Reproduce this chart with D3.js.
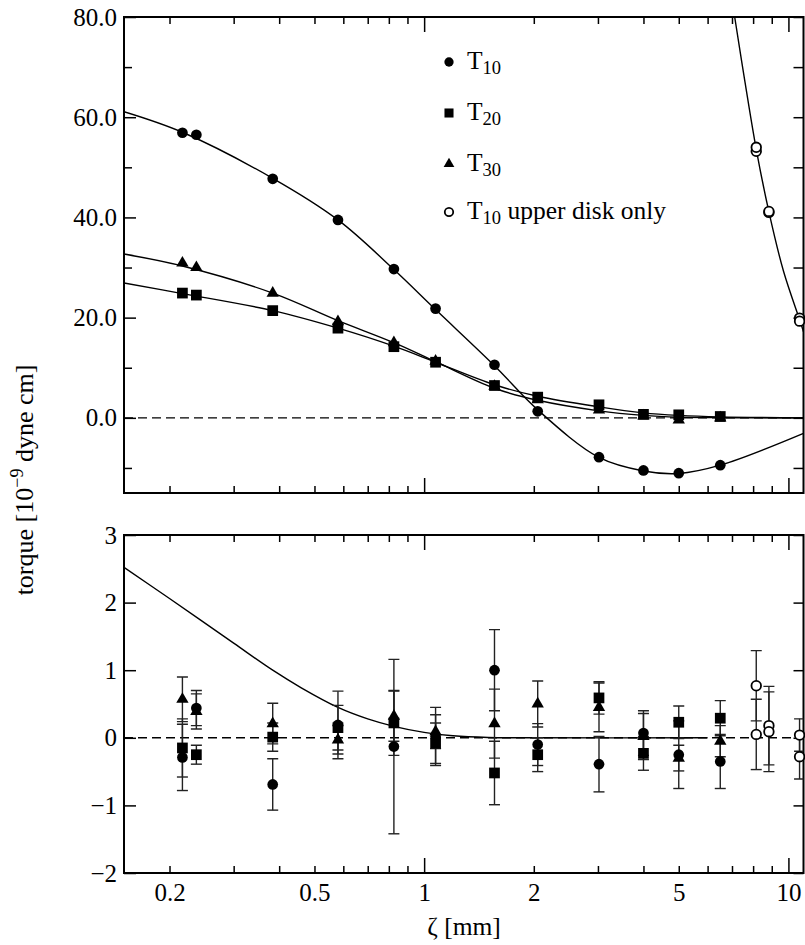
<!DOCTYPE html>
<html>
<head>
<meta charset="utf-8">
<script src="https://cdn.jsdelivr.net/npm/d3@7"></script>
<style>
  body { margin: 0; background: #fff; }
  text { font-family: "Liberation Serif", "Times New Roman", serif; }
</style>
</head>
<body>
<div id="chart"></div>
<script>
//plate separations [mm] where torques were measured
const zeta = [0.217, 0.237, 0.384, 0.58, 0.826, 1.075, 1.56, 2.05, 3.02, 4.0, 5.0, 6.5];

//measured torques [1e-9 dyne cm]
const t10 = [56.9, 56.5, 47.7, 39.5, 29.7, 21.8, 10.6, 1.3, -7.85, -10.5, -11.05, -9.45];
const t20 = [24.9, 24.5, 21.4, 17.9, 14.2, 11.1, 6.45, 4.13, 2.6, 0.7, 0.6, 0.27];
const t30 = [30.9, 30.0, 24.9, 19.2, 15.0, 11.3, 6.3, 3.6, 1.6, 0.4, -0.4, 0.0];

//upper disk only runs
const zetaUpper = [8.16, 8.16, 8.84, 8.84, 10.73, 10.73];
const t10Upper = [53.2, 54.0, 41.0, 41.2, 19.9, 19.3];

//fitted curves, [zeta, torque]
const fitT10 = [[0.15, 61.1], [0.217, 57.0], [0.384, 47.8], [0.58, 39.5], [0.826, 29.6], [1.075, 21.6],
    [1.56, 10.4], [2.05, 1.6], [3.02, -7.9], [4.0, -10.6], [5.0, -11.1], [6.5, -9.45], [11, -3.1]];
const fitT20 = [[0.15, 26.9], [0.217, 24.8], [0.384, 21.4], [0.58, 17.9], [0.826, 14.3], [1.075, 11.1],
    [1.56, 6.6], [2.05, 4.3], [3.02, 2.2], [4.0, 1.0], [5.0, 0.5], [6.5, 0.2], [11, 0.0]];
const fitT30 = [[0.15, 32.7], [0.217, 30.3], [0.384, 24.9], [0.58, 19.4], [0.826, 15.0], [1.075, 11.2],
    [1.56, 5.9], [2.05, 3.5], [3.02, 1.4], [4.0, 0.5], [5.0, 0.15], [6.5, 0.03], [11, 0.0]];
const fitUpper = [[6.9, 86.5], [7.12, 80], [7.6, 67], [8.16, 53.6], [8.84, 41.1], [9.7, 29.2],
    [10.73, 19.6], [11, 17.2]];

//residuals and their error bars
const resT10 = [-0.29, 0.44, -0.69, 0.19, -0.13, 0.02, 1.00, -0.10, -0.39, 0.07, -0.25, -0.35];
const errT10 = [0.49, 0.26, 0.38, 0.50, 1.29, 0.43, 0.60, 0.31, 0.41, 0.33, 0.50, 0.40];
const resT20 = [-0.15, -0.25, 0.01, 0.15, 0.22, -0.08, -0.52, -0.25, 0.59, -0.23, 0.23, 0.29];
const errT20 = [0.43, 0.14, 0.21, 0.33, 0.48, 0.30, 0.47, 0.25, 0.24, 0.25, 0.24, 0.26];
const resT30 = [0.57, 0.39, 0.21, -0.03, 0.32, 0.09, 0.21, 0.50, 0.45, 0.02, -0.30, -0.05];
const errT30 = [0.33, 0.26, 0.30, 0.21, 0.37, 0.25, 0.51, 0.34, 0.36, 0.34, 0.19, 0.23];
const resUpper = [0.77, 0.05, 0.18, 0.09, 0.04, -0.28];
const errUpper = [0.52, 0.52, 0.58, 0.59, 0.24, 0.33];

//residual curve in lower panel
const fitResid = [[0.15, 2.52], [0.2, 2.06], [0.3, 1.40], [0.384, 1.0], [0.46, 0.74], [0.58, 0.45],
    [0.7, 0.28], [0.826, 0.17], [1.0, 0.08], [1.2, 0.03], [1.5, 0.005], [2.0, 0.0], [6.0, 0.0]];

//ticks
const xMinor = [0.2, 0.3, 0.4, 0.5, 0.6, 0.7, 0.8, 0.9, 2, 3, 4, 5, 6, 7, 8, 9];
const xMajor = [1, 10];
const xLabels = [0.2, 0.5, 1, 2, 5, 10];
const yTopMajor = [0, 20, 40, 60, 80];
const yTopMinor = [-10, 10, 30, 50, 70];
const yBotMajor = [-2, -1, 0, 1, 2, 3];

const width = 805;
const height = 945;
const left = 124;
const right = 803.5;

const svg = d3.select("#chart").append("svg")
    .attr("width", width)
    .attr("height", height);

const x = d3.scaleLog().domain([0.15, 11]).range([left, right]);
const yTop = d3.scaleLinear().domain([-15, 80]).range([493, 17]);
const yBot = d3.scaleLinear().domain([-2, 3]).range([873, 535]);

//clip regions for the two panels
const defs = svg.append("defs");
[["clipTop", yTop], ["clipBot", yBot]].forEach(([id, y]) => {
    defs.append("clipPath").attr("id", id)
        .append("rect")
        .attr("x", left).attr("y", y.range()[1])
        .attr("width", right - left).attr("height", y.range()[0] - y.range()[1]);
});

function styleAxis(g) {
    g.select(".domain").remove();
    g.selectAll("line").attr("stroke", "#000").attr("stroke-width", 1.5);
    g.selectAll("text").attr("fill", "#000").attr("font-size", 25)
        .attr("font-family", "'Liberation Serif', 'Times New Roman', serif");
}

//frame, ticks and dashed zero line for one panel
function drawFrame(y, yMajor, yMinor, fmt, labelX) {
    const [y0, y1] = y.range();

    svg.append("g").attr("transform", `translate(0,${y0})`)
        .call(d3.axisBottom(x).tickValues(xMinor).tickSize(-7).tickFormat(""))
        .call(styleAxis);
    svg.append("g").attr("transform", `translate(0,${y0})`)
        .call(d3.axisBottom(x).tickValues(xMajor).tickSize(-15).tickFormat(""))
        .call(styleAxis);
    svg.append("g").attr("transform", `translate(0,${y1})`)
        .call(d3.axisTop(x).tickValues(xMinor).tickSize(-7).tickFormat(""))
        .call(styleAxis);
    svg.append("g").attr("transform", `translate(0,${y1})`)
        .call(d3.axisTop(x).tickValues(xMajor).tickSize(-15).tickFormat(""))
        .call(styleAxis);
    if (labelX) {
        svg.append("g").attr("transform", `translate(0,${y0})`)
            .call(d3.axisBottom(x).tickValues(xLabels).tickSize(0).tickPadding(10).tickFormat(d => String(d)))
            .call(styleAxis);
    }

    svg.append("g").attr("transform", `translate(${left},0)`)
        .call(d3.axisLeft(y).tickValues(yMajor).tickSize(-12).tickPadding(7).tickFormat(fmt))
        .call(styleAxis);
    svg.append("g").attr("transform", `translate(${right},0)`)
        .call(d3.axisRight(y).tickValues(yMajor).tickSize(-10).tickFormat(""))
        .call(styleAxis);
    if (yMinor.length) {
        svg.append("g").attr("transform", `translate(${left},0)`)
            .call(d3.axisLeft(y).tickValues(yMinor).tickSize(-8).tickFormat(""))
            .call(styleAxis);
        svg.append("g").attr("transform", `translate(${right},0)`)
            .call(d3.axisRight(y).tickValues(yMinor).tickSize(-10).tickFormat(""))
            .call(styleAxis);
    }

    //zero line
    svg.append("line")
        .attr("x1", left).attr("x2", right)
        .attr("y1", y(0)).attr("y2", y(0))
        .attr("stroke", "#000")
        .attr("stroke-width", 1.4)
        .attr("stroke-dasharray", "9,5");

    svg.append("rect")
        .attr("x", left).attr("y", y1)
        .attr("width", right - left).attr("height", y0 - y1)
        .attr("fill", "none")
        .attr("stroke", "#000")
        .attr("stroke-width", 2);
}

drawFrame(yTop, yTopMajor, yTopMinor, d3.format(".1f"), false);
drawFrame(yBot, yBotMajor, [], d3.format("d"), true);

//fitted curves
function drawCurve(pts, y, clip) {
    const line = d3.line()
        .x(d => x(d[0]))
        .y(d => y(d[1]))
        .curve(d3.curveCatmullRom.alpha(0.5));
    svg.append("path")
        .datum(pts)
        .attr("clip-path", `url(#${clip})`)
        .attr("fill", "none")
        .attr("stroke", "#000")
        .attr("stroke-width", 1.4)
        .attr("d", line);
}

drawCurve(fitT10, yTop, "clipTop");
drawCurve(fitT20, yTop, "clipTop");
drawCurve(fitT30, yTop, "clipTop");
drawCurve(fitUpper, yTop, "clipTop");
drawCurve(fitResid, yBot, "clipBot");

//marker shapes
const shapes = {
    circle: d3.symbol().type(d3.symbolCircle).size(90),
    square: d3.symbol().type(d3.symbolSquare).size(115),
    triangle: d3.symbol().type(d3.symbolTriangle).size(66),
    open: d3.symbol().type(d3.symbolCircle).size(72)
};

function drawPoints(xs, ys, y, shape) {
    svg.append("g")
        .selectAll("path")
        .data(xs.map((d, i) => [d, ys[i]]))
        .join("path")
        .attr("transform", d => `translate(${x(d[0])},${y(d[1])})`)
        .attr("d", shapes[shape])
        .attr("fill", shape === "open" ? "#fff" : "#000")
        .attr("stroke", shape === "open" ? "#000" : "none")
        .attr("stroke-width", 1.8);
}

//error bars with caps
function drawErrors(xs, ys, es) {
    const g = svg.append("g")
        .attr("stroke", "#222")
        .attr("stroke-width", 1.4)
        .attr("clip-path", "url(#clipBot)");
    const data = xs.map((d, i) => ({ x: x(d), lo: yBot(ys[i] - es[i]), hi: yBot(ys[i] + es[i]) }));
    g.selectAll(".bar").data(data).join("line")
        .attr("x1", d => d.x).attr("x2", d => d.x)
        .attr("y1", d => d.lo).attr("y2", d => d.hi);
    g.selectAll(".capLo").data(data).join("line")
        .attr("x1", d => d.x - 5.5).attr("x2", d => d.x + 5.5)
        .attr("y1", d => d.lo).attr("y2", d => d.lo);
    g.selectAll(".capHi").data(data).join("line")
        .attr("x1", d => d.x - 5.5).attr("x2", d => d.x + 5.5)
        .attr("y1", d => d.hi).attr("y2", d => d.hi);
}

drawErrors(zeta, resT10, errT10);
drawErrors(zeta, resT20, errT20);
drawErrors(zeta, resT30, errT30);
drawErrors(zetaUpper, resUpper, errUpper);

//top panel points
drawPoints(zeta, t10, yTop, "circle");
drawPoints(zeta, t20, yTop, "square");
drawPoints(zeta, t30, yTop, "triangle");
drawPoints(zetaUpper, t10Upper, yTop, "open");

//bottom panel points
drawPoints(zeta, resT30, yBot, "triangle");
drawPoints(zeta, resT20, yBot, "square");
drawPoints(zeta, resT10, yBot, "circle");
drawPoints(zetaUpper, resUpper, yBot, "open");

//legend
const legendItems = [
    { shape: "circle", sub: "10", rest: "" },
    { shape: "square", sub: "20", rest: "" },
    { shape: "triangle", sub: "30", rest: "" },
    { shape: "open", sub: "10", rest: " upper disk only" }
];
const legendSymbols = {
    circle: d3.symbol().type(d3.symbolCircle).size(68),
    square: d3.symbol().type(d3.symbolSquare).size(82),
    triangle: d3.symbol().type(d3.symbolTriangle).size(50),
    open: d3.symbol().type(d3.symbolCircle).size(56)
};
const legendY = [62, 113, 164, 212];

const legend = svg.append("g")
    .selectAll("g")
    .data(legendItems)
    .join("g")
    .attr("transform", (d, i) => `translate(449,${legendY[i]})`);

legend.append("path")
    .attr("d", d => legendSymbols[d.shape]())
    .attr("fill", d => d.shape === "open" ? "#fff" : "#000")
    .attr("stroke", d => d.shape === "open" ? "#000" : "none")
    .attr("stroke-width", 1.8);

legend.append("text")
    .attr("x", 18)
    .attr("y", 7)
    .attr("font-size", 25.5)
    .call(t => t.append("tspan").text("T"))
    .call(t => t.append("tspan").attr("font-size", 18.5).attr("dy", 5).text(d => d.sub))
    .call(t => t.append("tspan").attr("dy", -5).text(d => d.rest));

//axis titles
svg.append("text")
    .attr("x", 464)
    .attr("y", 935)
    .attr("text-anchor", "middle")
    .attr("font-size", 25.5)
    .text("ζ [mm]");

svg.append("text")
    .attr("transform", "translate(33,480) rotate(-90)")
    .attr("text-anchor", "middle")
    .attr("font-size", 26)
    .call(t => t.append("tspan").text("torque [10"))
    .call(t => t.append("tspan").attr("font-size", 18).attr("dy", -10).text("−9"))
    .call(t => t.append("tspan").attr("dy", 10).text(" dyne cm]"));
</script>
</body>
</html>
